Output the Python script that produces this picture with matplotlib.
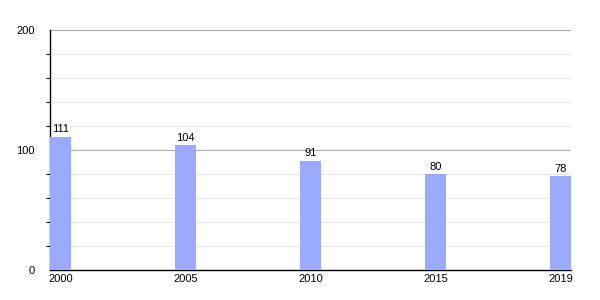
import numpy as np
import matplotlib.pyplot as plt
from matplotlib.ticker import MultipleLocator

plt.rcParams['font.family'] = ['Liberation Sans', 'DejaVu Sans']

years = ['2000', '2005', '2010', '2015', '2019']
values = [111, 104, 91, 80, 78]

bar_w = 0.168
x = np.arange(len(years))

fig = plt.figure(figsize=(6, 3), dpi=100)
ax = fig.add_axes([50 / 600, 0.1, 521 / 600, 0.8])

ax.bar(x, values, width=bar_w, align='edge', color='#99aaff', zorder=3)
for xi, v in zip(x, values):
    ax.text(xi + bar_w / 2, v + 2, str(v), ha='center', va='bottom', fontsize=8, zorder=4)

ax.set_xlim(0, x[-1] + bar_w)
ax.set_ylim(0, 200)
ax.set_xticks(x + bar_w / 2)
ax.set_xticklabels(years)
ax.yaxis.set_major_locator(MultipleLocator(100))
ax.yaxis.set_minor_locator(MultipleLocator(20))

ax.grid(axis='y', which='major', color='#aaaaaa', linewidth=0.8, zorder=1)
ax.grid(axis='y', which='minor', color='#e6e6e6', linewidth=0.8, zorder=1)
ax.set_axisbelow(True)

for s in ['top', 'right']:
    ax.spines[s].set_visible(False)
ax.spines['left'].set_linewidth(1)
ax.spines['bottom'].set_linewidth(1)

ax.tick_params(axis='y', which='major', length=0, pad=11, labelsize=8)
ax.tick_params(axis='y', which='minor', length=3, width=0.8)
ax.tick_params(axis='x', length=0, pad=3, labelsize=8)

fig.savefig('out.png', dpi=100)
